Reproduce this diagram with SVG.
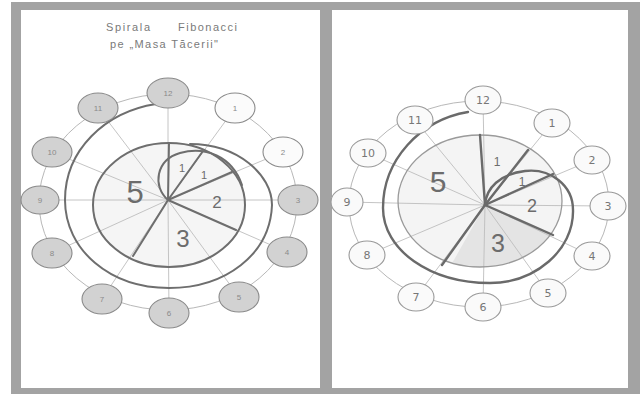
<svg xmlns="http://www.w3.org/2000/svg" width="640" height="394" viewBox="0 0 640 394">
<defs>
<style>
.thin{fill:none;stroke:#bdbdbd;stroke-width:0.9}
.ring{fill:none;stroke:#b8b8b8;stroke-width:1}
.dark{fill:none;stroke:#6e6e6e;stroke-width:2;stroke-linecap:round}
.darkR{fill:none;stroke:#6a6a6a;stroke-width:2.4;stroke-linecap:round}
.nodeL ellipse{fill:#d2d2d2;stroke:#8a8a8a;stroke-width:1.1}
.nodeLw ellipse{fill:#fbfbfb;stroke:#8a8a8a;stroke-width:1.1}
.nodeR ellipse{fill:#fafafa;stroke:#9a9a9a;stroke-width:1.1}
.lblL{font-family:"Liberation Sans",Arial,sans-serif;font-size:8px;fill:#8a8a8a;text-anchor:middle}
.lblR{font-family:"DejaVu Sans","Liberation Sans",sans-serif;font-size:11px;fill:#777;text-anchor:middle}
.big{font-family:"Liberation Sans",Arial,sans-serif;fill:#6c6c6c;text-anchor:middle}
.title{font-family:"Liberation Sans",Arial,sans-serif;font-size:11px;fill:#7a7a7a}
</style>
<clipPath id="pieR"><ellipse cx="480" cy="201" rx="82" ry="66"/></clipPath>
</defs>

<!-- frame -->
<rect x="11" y="2" width="629" height="392" fill="#a3a3a3"/>
<rect x="21" y="10" width="299" height="378" fill="#ffffff"/>
<rect x="332" y="10" width="296" height="378" fill="#ffffff"/>

<!-- left title -->
<g id="title">
<text class="title" x="106" y="31" textLength="44">Spirala</text>
<text class="title" x="178" y="31" textLength="59">Fibonacci</text>
<text class="title" x="110" y="48" textLength="108">pe „Masa Tăcerii"</text>
</g>

<!-- LEFT PANEL -->
<g id="left-pie-fill">
<ellipse cx="169" cy="205" rx="76" ry="62" fill="#f5f5f5"/>
</g>
<g id="connectors-left">
<ellipse class="ring" cx="168" cy="202" rx="129" ry="108"/>
<line class="thin" x1="168" y1="200" x2="168" y2="93"/>
<line class="thin" x1="168" y1="200" x2="235" y2="108"/>
<line class="thin" x1="168" y1="200" x2="283" y2="152"/>
<line class="thin" x1="168" y1="200" x2="298" y2="200"/>
<line class="thin" x1="168" y1="200" x2="287" y2="252"/>
<line class="thin" x1="168" y1="200" x2="239" y2="297"/>
<line class="thin" x1="168" y1="200" x2="169" y2="313"/>
<line class="thin" x1="168" y1="200" x2="102" y2="299"/>
<line class="thin" x1="168" y1="200" x2="52" y2="253"/>
<line class="thin" x1="168" y1="200" x2="38" y2="200"/>
<line class="thin" x1="168" y1="200" x2="52" y2="152"/>
<line class="thin" x1="168" y1="200" x2="98" y2="108"/>
</g>
<g id="left-spiral">
<ellipse class="dark" cx="169" cy="205" rx="76" ry="62"/>
<line class="dark" x1="168" y1="200" x2="169" y2="143"/>
<line class="dark" x1="168" y1="200" x2="203" y2="151"/>
<line class="dark" x1="168" y1="200" x2="232" y2="172"/>
<line class="dark" x1="168" y1="200" x2="236" y2="230"/>
<line class="dark" x1="168" y1="200" x2="133" y2="256"/>
<path class="dark" d="M168,200 C152,186 156,160 180,153 C205,146 232,156 242,185"/>
<path class="dark" d="M190,144 C238,144 272,175 272,205 C270,255 225,288 169,288 C110,288 65,250 65,200 C65,150 105,112 156,104"/>
<text class="big" x="135" y="203" font-size="31">5</text>
<text class="big" x="182" y="172" font-size="11">1</text>
<text class="big" x="204" y="179" font-size="11">1</text>
<text class="big" x="217" y="208" font-size="17">2</text>
<text class="big" x="183" y="247" font-size="24">3</text>
</g>
<g id="L12" class="nodeL"><ellipse cx="168" cy="93" rx="21" ry="15"/><text class="lblL" x="168" y="96">12</text></g>
<g id="L1" class="nodeLw"><ellipse cx="235" cy="108" rx="20" ry="15"/><text class="lblL" x="235" y="111">1</text></g>
<g id="L2" class="nodeLw"><ellipse cx="283" cy="152" rx="20" ry="15"/><text class="lblL" x="283" y="155">2</text></g>
<g id="L3" class="nodeL"><ellipse cx="298" cy="200" rx="20" ry="15"/><text class="lblL" x="298" y="203">3</text></g>
<g id="L4" class="nodeL"><ellipse cx="287" cy="252" rx="20" ry="15"/><text class="lblL" x="287" y="255">4</text></g>
<g id="L5" class="nodeL"><ellipse cx="239" cy="297" rx="20" ry="15"/><text class="lblL" x="239" y="300">5</text></g>
<g id="L6" class="nodeL"><ellipse cx="169" cy="313" rx="20" ry="15"/><text class="lblL" x="169" y="316">6</text></g>
<g id="L7" class="nodeL"><ellipse cx="102" cy="299" rx="20" ry="15"/><text class="lblL" x="102" y="302">7</text></g>
<g id="L8" class="nodeL"><ellipse cx="52" cy="253" rx="20" ry="15"/><text class="lblL" x="52" y="256">8</text></g>
<g id="L9" class="nodeL"><ellipse cx="40" cy="200" rx="19" ry="14"/><text class="lblL" x="40" y="203">9</text></g>
<g id="L10" class="nodeL"><ellipse cx="52" cy="152" rx="20" ry="15"/><text class="lblL" x="52" y="155">10</text></g>
<g id="L11" class="nodeL"><ellipse cx="98" cy="108" rx="20" ry="15"/><text class="lblL" x="98" y="111">11</text></g>

<!-- RIGHT PANEL -->
<g id="right-pie-fill">
<ellipse cx="480" cy="201" rx="82" ry="66" fill="#f4f4f4"/>
<polygon points="485,205 600,255 420,320" fill="#e4e4e4" clip-path="url(#pieR)"/>
</g>
<g id="connectors-right">
<ellipse class="ring" cx="479" cy="204" rx="130" ry="103"/>
<line class="thin" x1="485" y1="205" x2="483" y2="100"/>
<line class="thin" x1="485" y1="205" x2="552" y2="123"/>
<line class="thin" x1="485" y1="205" x2="592" y2="160"/>
<line class="thin" x1="485" y1="205" x2="608" y2="206"/>
<line class="thin" x1="485" y1="205" x2="592" y2="256"/>
<line class="thin" x1="485" y1="205" x2="548" y2="293"/>
<line class="thin" x1="485" y1="205" x2="483" y2="307"/>
<line class="thin" x1="485" y1="205" x2="416" y2="297"/>
<line class="thin" x1="485" y1="205" x2="367" y2="255"/>
<line class="thin" x1="485" y1="205" x2="346" y2="202"/>
<line class="thin" x1="485" y1="205" x2="368" y2="153"/>
<line class="thin" x1="485" y1="205" x2="415" y2="120"/>
</g>
<g id="right-spiral">
<ellipse cx="480" cy="201" rx="82" ry="66" fill="none" stroke="#9a9a9a" stroke-width="1.3"/>
<line class="darkR" x1="485" y1="205" x2="480" y2="135"/>
<line class="darkR" x1="485" y1="205" x2="528" y2="150"/>
<line class="darkR" x1="485" y1="205" x2="553" y2="174"/>
<line class="darkR" x1="485" y1="205" x2="553" y2="235"/>
<line class="darkR" x1="485" y1="205" x2="442" y2="265"/>
<path class="darkR" d="M485,205 C486,188 500,174 525,171 C550,168 573,185 573,210 C574,250 535,283 490,283 C430,283 383,250 383,208 C383,160 420,120 468,112"/>
<text class="big" x="438" y="192" font-size="30">5</text>
<text class="big" x="497" y="166" font-size="12">1</text>
<text class="big" x="522" y="186" font-size="12">1</text>
<text class="big" x="532" y="212" font-size="18">2</text>
<text class="big" x="498" y="252" font-size="25">3</text>
</g>
<g id="R12" class="nodeR"><ellipse cx="483" cy="100" rx="18" ry="14"/><text class="lblR" x="483" y="104">12</text></g>
<g id="R1" class="nodeR"><ellipse cx="552" cy="123" rx="18" ry="14"/><text class="lblR" x="552" y="127">1</text></g>
<g id="R2" class="nodeR"><ellipse cx="592" cy="160" rx="18" ry="14"/><text class="lblR" x="592" y="164">2</text></g>
<g id="R3" class="nodeR"><ellipse cx="608" cy="206" rx="18" ry="14"/><text class="lblR" x="608" y="210">3</text></g>
<g id="R4" class="nodeR"><ellipse cx="592" cy="256" rx="18" ry="14"/><text class="lblR" x="592" y="260">4</text></g>
<g id="R5" class="nodeR"><ellipse cx="548" cy="293" rx="18" ry="14"/><text class="lblR" x="548" y="297">5</text></g>
<g id="R6" class="nodeR"><ellipse cx="483" cy="307" rx="18" ry="14"/><text class="lblR" x="483" y="311">6</text></g>
<g id="R7" class="nodeR"><ellipse cx="416" cy="297" rx="18" ry="14"/><text class="lblR" x="416" y="301">7</text></g>
<g id="R8" class="nodeR"><ellipse cx="367" cy="255" rx="18" ry="14"/><text class="lblR" x="367" y="259">8</text></g>
<g id="R9" class="nodeR"><ellipse cx="347" cy="202" rx="16" ry="14"/><text class="lblR" x="347" y="206">9</text></g>
<g id="R10" class="nodeR"><ellipse cx="368" cy="153" rx="18" ry="14"/><text class="lblR" x="368" y="157">10</text></g>
<g id="R11" class="nodeR"><ellipse cx="415" cy="120" rx="18" ry="14"/><text class="lblR" x="415" y="124">11</text></g>
</svg>
